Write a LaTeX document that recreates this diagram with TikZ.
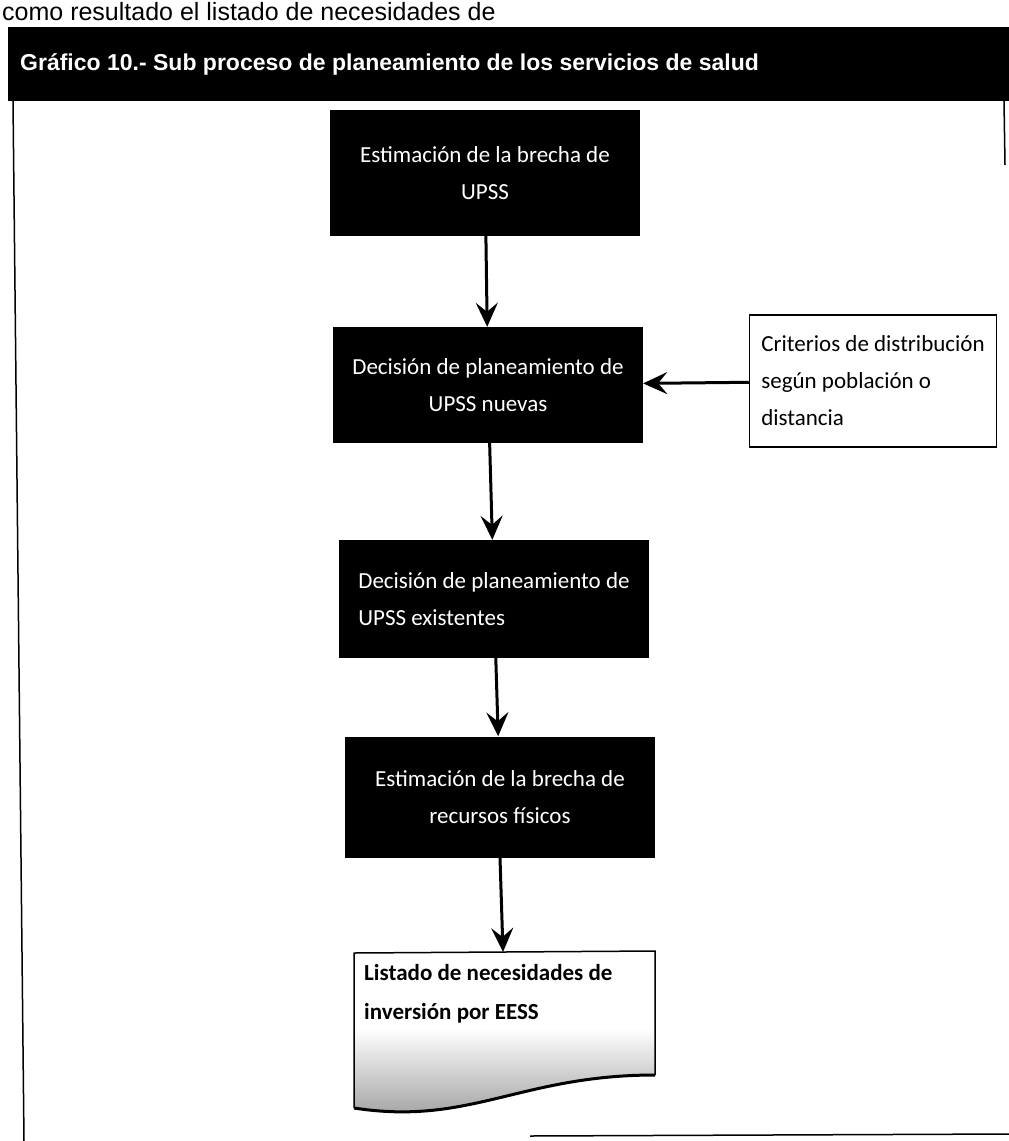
\documentclass[tikz,border=0pt]{standalone}
\usepackage{fontspec}
\setmainfont{Carlito}
\newfontfamily\arialfont{Liberation Sans}
\usetikzlibrary{arrows.meta}

\tikzset{
  paso/.style={fill=black, text=white, minimum width=310pt, inner sep=0pt,
    align=center, font=\fontsize{23}{37}\selectfont},
  flecha/.style={line width=3pt, -{Stealth[length=24pt,width=22pt,inset=9pt]}},
  borde/.style={line width=1.5pt},
}

\begin{document}
\begin{tikzpicture}[x=1pt,y=-1pt]
\useasboundingbox (0,0) rectangle (1009,1141);

% resto del texto de la pagina
\node[anchor=base west, inner sep=0pt, font=\arialfont\fontsize{25}{27}\selectfont] (previo) at (2,20)
  {como resultado el listado de necesidades de};

\fill (8,27) rectangle (1009,101);
\node[anchor=west, inner sep=0pt, text=white, font=\arialfont\bfseries\fontsize{23}{26}\selectfont] (titulo) at (20,64)
  {Gráfico 10.- Sub proceso de planeamiento de los servicios de salud};

\draw[borde] (13,101) -- (24,1141);
\draw[borde] (1004,101) -- (1005,165);
\draw[borde] (530,1136) -- (1009,1134);

\node[paso, minimum height=126pt] (brechaUPSS) at (485,173) {Estimación de la brecha de\\UPSS};
\node[paso, minimum height=116pt] (nuevas) at (488,385) {Decisión de planeamiento de\\UPSS nuevas};
\node[paso, minimum height=118pt, align=left] (existentes) at (494,599)
  {Decisión de planeamiento de\\UPSS existentes};
\node[paso, minimum height=121pt] (brechaRF) at (500,797) {Estimación de la brecha de\\recursos físicos};

\node[draw, borde, minimum width=247pt, minimum height=132pt, inner sep=3pt,
  align=left, font=\fontsize{23}{37}\selectfont] (criterios) at (873,381)
  {Criterios de distribución\\según población o\\distancia};

% documento final
\coordinate (docNO) at (354,953);
\coordinate (docNE) at (655,951);
\coordinate (docSE) at (655,1075);
\coordinate (docSO) at (354,1108);
\coordinate (docarriba) at (503,952);
\begin{scope}
  \clip (docNO) -- (docNE) -- (docSE) .. controls (520,1075) and (470,1126) .. (docSO) -- cycle;
  \shade[top color=white, bottom color=black!40] (354,1028) rectangle (655,1126);
\end{scope}
\draw[borde] (docSE) -- (docNE) -- (docNO) -- (docSO);
\draw[line width=3pt] (docSE) .. controls (520,1075) and (470,1126) .. (docSO);
\node[anchor=north west, inner sep=0pt, align=left, font=\bfseries\fontsize{23}{39}\selectfont] (listado) at (364,964)
  {Listado de necesidades de\\inversión por EESS};

\draw[flecha] (brechaUPSS) -- (nuevas);
\draw[flecha] (nuevas) -- (existentes);
\draw[flecha] (existentes) -- (brechaRF);
\draw[flecha] (brechaRF.south) -- (docarriba);
\draw[flecha] (criterios) -- (nuevas);
\end{tikzpicture}
\end{document}
